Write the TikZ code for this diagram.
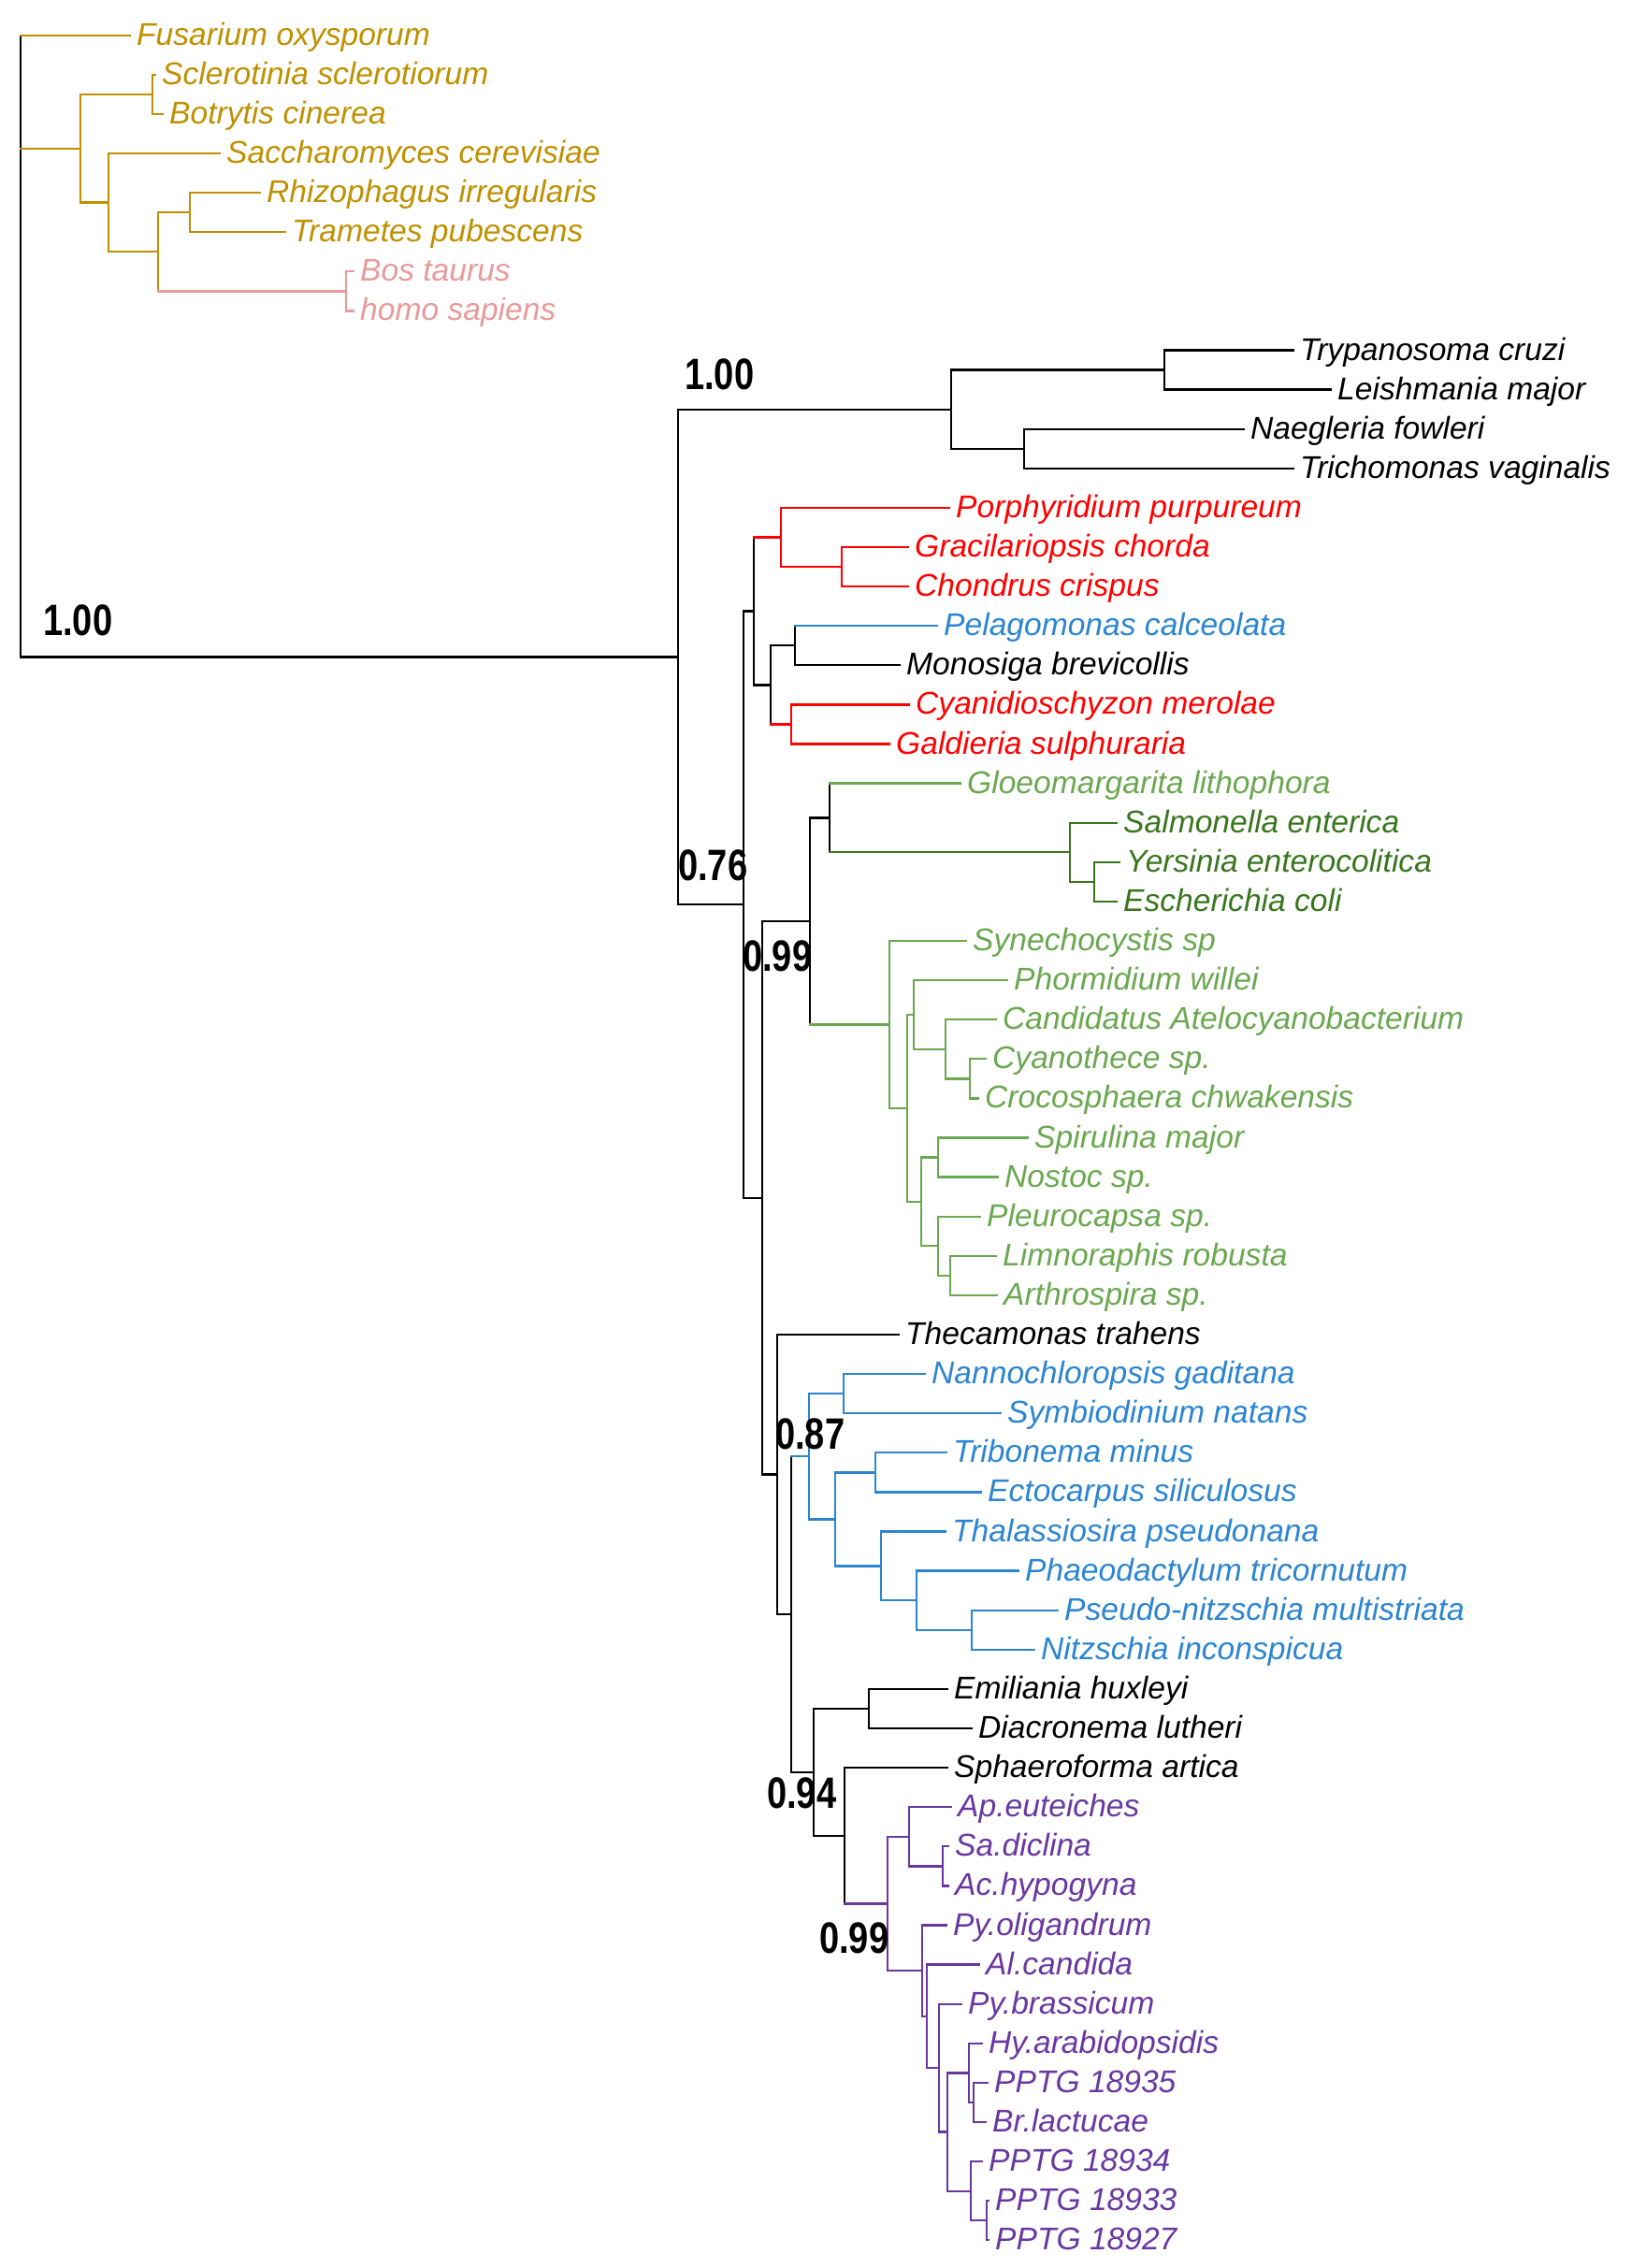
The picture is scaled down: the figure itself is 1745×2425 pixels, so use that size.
\documentclass[tikz,border=0pt]{standalone}
\usepackage{fontspec}
\setmainfont{Liberation Sans}
\definecolor{cgold}{RGB}{191,144,0}
\definecolor{cpink}{RGB}{234,153,153}
\definecolor{cred}{RGB}{255,0,0}
\definecolor{cblue}{RGB}{43,133,208}
\definecolor{cdgreen}{RGB}{56,118,29}
\definecolor{clgreen}{RGB}{106,168,79}
\definecolor{cpurple}{RGB}{105,55,160}
\newcommand\mkleaf[5]{\coordinate (#1) at (#2,#3); \node[leaf,text=#4] (#1t) at (#1) {#5};}
\newcommand\hb[3]{\draw[br,#3] (#2 -| #1) -- (#2);}
\newcommand\vb[4]{\draw[br,#4] (#2 -| #1) -- (#3 -| #1);}
\begin{document}
\begin{tikzpicture}[x=1pt,y=-42.1pt,
  br/.style={line width=2.3pt,line cap=rect},
  leaf/.style={anchor=base west,inner sep=0pt,xshift=7pt,yshift=-10.5pt,font=\fontsize{33.6}{40}\selectfont\itshape},
  bs/.style={anchor=south west,inner sep=0pt,font=\fontsize{47}{56}\selectfont\bfseries}]
\useasboundingbox (0pt,37.7pt) rectangle (1745pt,-2387.3pt);
% leaves
\mkleaf{l0}{139}{0}{cgold}{Fusarium oxysporum}
\mkleaf{l1}{166}{1}{cgold}{Sclerotinia sclerotiorum}
\mkleaf{l2}{174}{2}{cgold}{Botrytis cinerea}
\mkleaf{l3}{235}{3}{cgold}{Saccharomyces cerevisiae}
\mkleaf{l4}{278}{4}{cgold}{Rhizophagus irregularis}
\mkleaf{l5}{305}{5}{cgold}{Trametes pubescens}
\mkleaf{l6}{378}{6}{cpink}{Bos taurus}
\mkleaf{l7}{378}{7}{cpink}{homo sapiens}
\mkleaf{l8}{1383}{8}{black}{Trypanosoma cruzi}
\mkleaf{l9}{1423}{9}{black}{Leishmania major}
\mkleaf{l10}{1330}{10}{black}{Naegleria fowleri}
\mkleaf{l11}{1383}{11}{black}{Trichomonas vaginalis}
\mkleaf{l12}{1015}{12}{cred}{Porphyridium purpureum}
\mkleaf{l13}{971}{13}{cred}{Gracilariopsis chorda}
\mkleaf{l14}{971}{14}{cred}{Chondrus crispus}
\mkleaf{l15}{1002}{15}{cblue}{Pelagomonas calceolata}
\mkleaf{l16}{962}{16}{black}{Monosiga brevicollis}
\mkleaf{l17}{972}{17}{cred}{Cyanidioschyzon merolae}
\mkleaf{l18}{951}{18}{cred}{Galdieria sulphuraria}
\mkleaf{l19}{1027}{19}{clgreen}{Gloeomargarita lithophora}
\mkleaf{l20}{1194}{20}{cdgreen}{Salmonella enterica}
\mkleaf{l21}{1197}{21}{cdgreen}{Yersinia enterocolitica}
\mkleaf{l22}{1194}{22}{cdgreen}{Escherichia coli}
\mkleaf{l23}{1033}{23}{clgreen}{Synechocystis sp}
\mkleaf{l24}{1077}{24}{clgreen}{Phormidium willei}
\mkleaf{l25}{1065}{25}{clgreen}{Candidatus Atelocyanobacterium}
\mkleaf{l26}{1054}{26}{clgreen}{Cyanothece sp.}
\mkleaf{l27}{1046}{27}{clgreen}{Crocosphaera chwakensis}
\mkleaf{l28}{1099}{28}{clgreen}{Spirulina major}
\mkleaf{l29}{1067}{29}{clgreen}{Nostoc sp.}
\mkleaf{l30}{1048}{30}{clgreen}{Pleurocapsa sp.}
\mkleaf{l31}{1065}{31}{clgreen}{Limnoraphis robusta}
\mkleaf{l32}{1066}{32}{clgreen}{Arthrospira sp.}
\mkleaf{l33}{961}{33}{black}{Thecamonas trahens}
\mkleaf{l34}{989}{34}{cblue}{Nannochloropsis gaditana}
\mkleaf{l35}{1070}{35}{cblue}{Symbiodinium natans}
\mkleaf{l36}{1012}{36}{cblue}{Tribonema minus}
\mkleaf{l37}{1049}{37}{cblue}{Ectocarpus siliculosus}
\mkleaf{l38}{1011}{38}{cblue}{Thalassiosira pseudonana}
\mkleaf{l39}{1089}{39}{cblue}{Phaeodactylum tricornutum}
\mkleaf{l40}{1131}{40}{cblue}{Pseudo-nitzschia multistriata}
\mkleaf{l41}{1106}{41}{cblue}{Nitzschia inconspicua}
\mkleaf{l42}{1013}{42}{black}{Emiliania huxleyi}
\mkleaf{l43}{1039}{43}{black}{Diacronema lutheri}
\mkleaf{l44}{1013}{44}{black}{Sphaeroforma artica}
\mkleaf{l45}{1017}{45}{cpurple}{Ap.euteiches}
\mkleaf{l46}{1014}{46}{cpurple}{Sa.diclina}
\mkleaf{l47}{1014}{47}{cpurple}{Ac.hypogyna}
\mkleaf{l48}{1012}{48}{cpurple}{Py.oligandrum}
\mkleaf{l49}{1047}{49}{cpurple}{Al.candida}
\mkleaf{l50}{1028}{50}{cpurple}{Py.brassicum}
\mkleaf{l51}{1050}{51}{cpurple}{Hy.arabidopsidis}
\mkleaf{l52}{1056}{52}{cpurple}{PPTG 18935}
\mkleaf{l53}{1054}{53}{cpurple}{Br.lactucae}
\mkleaf{l54}{1050}{54}{cpurple}{PPTG 18934}
\mkleaf{l55}{1057}{55}{cpurple}{PPTG 18933}
\mkleaf{l56}{1057}{56}{cpurple}{PPTG 18927}
% internal nodes
\coordinate (root) at (22,0);
\coordinate (nFun) at (86,2.875);
\coordinate (nSB) at (163,1.5);
\coordinate (nSacc) at (116,4.25);
\coordinate (nRTBH) at (169,5.5);
\coordinate (nRT) at (203,4.5);
\coordinate (nBH) at (370,6.5);
\coordinate (nA) at (725,15.79);
\coordinate (nTL) at (1017,9.5);
\coordinate (nTryp) at (1245,8.5);
\coordinate (nNaeg) at (1095,10.5);
\coordinate (n076) at (795,22.075);
\coordinate (nRed) at (806,14.625);
\coordinate (nPorph) at (835,12.75);
\coordinate (nGC) at (900,13.5);
\coordinate (nPMCG) at (824,16.5);
\coordinate (nPM) at (850,15.5);
\coordinate (nCG) at (846,17.5);
\coordinate (n099a) at (815,29.526);
\coordinate (nCyan) at (866,22.5);
\coordinate (nGloeo) at (887,19.875);
\coordinate (nEnt) at (1144,20.75);
\coordinate (nYE) at (1170,21.5);
\coordinate (nCyanoB) at (951,25.125);
\coordinate (nX) at (970,27.25);
\coordinate (nPh) at (977,24.875);
\coordinate (nCa) at (1011,25.75);
\coordinate (nCC) at (1037,26.5);
\coordinate (nSp) at (985,29.625);
\coordinate (nSN) at (1003,28.5);
\coordinate (nPL) at (1003,30.75);
\coordinate (nLA) at (1016,31.5);
\coordinate (nLower) at (831,36.552);
\coordinate (nB) at (846,40.104);
\coordinate (nStram) at (865,36.094);
\coordinate (nNS) at (902,34.5);
\coordinate (nTr) at (893,37.6875);
\coordinate (nTE) at (936,36.5);
\coordinate (nThal) at (942,38.875);
\coordinate (nPhae) at (980,39.75);
\coordinate (nPN) at (1039,40.5);
\coordinate (nE) at (870,44.113);
\coordinate (nED) at (929,42.5);
\coordinate (nSph) at (903,45.727);
\coordinate (nOom) at (949,47.453);
\coordinate (nApSA) at (972,45.75);
\coordinate (nSaAc) at (1008,46.5);
\coordinate (nPy) at (986,49.156);
\coordinate (nAl) at (991,50.3125);
\coordinate (nPB) at (1004,51.625);
\coordinate (nHP) at (1013,53.25);
\coordinate (nHy) at (1036,51.75);
\coordinate (nPB2) at (1041,52.5);
\coordinate (nPP) at (1038,54.75);
\coordinate (n33) at (1055,55.5);
% root
\vb{root}{l0}{nA}{black}
\hb{root}{l0}{cgold}
\hb{root}{nFun}{cgold}
\hb{root}{nA}{black}
% fungi
\vb{nFun}{nSB}{nSacc}{cgold}
\hb{nFun}{nSB}{cgold}
\hb{nFun}{nSacc}{cgold}
\vb{nSB}{l1}{l2}{cgold}
\hb{nSB}{l1}{cgold}
\hb{nSB}{l2}{cgold}
\vb{nSacc}{l3}{nRTBH}{cgold}
\hb{nSacc}{l3}{cgold}
\hb{nSacc}{nRTBH}{cgold}
\vb{nRTBH}{nRT}{nBH}{cgold}
\hb{nRTBH}{nRT}{cgold}
\hb{nRTBH}{nBH}{cpink}
\vb{nRT}{l4}{l5}{cgold}
\hb{nRT}{l4}{cgold}
\hb{nRT}{l5}{cgold}
\vb{nBH}{l6}{l7}{cpink}
\hb{nBH}{l6}{cpink}
\hb{nBH}{l7}{cpink}
% big clade
\vb{nA}{nTL}{n076}{black}
\hb{nA}{nTL}{black}
\hb{nA}{n076}{black}
\vb{nTL}{nTryp}{nNaeg}{black}
\hb{nTL}{nTryp}{black}
\hb{nTL}{nNaeg}{black}
\vb{nTryp}{l8}{l9}{black}
\hb{nTryp}{l8}{black}
\hb{nTryp}{l9}{black}
\vb{nNaeg}{l10}{l11}{black}
\hb{nNaeg}{l10}{black}
\hb{nNaeg}{l11}{black}
\vb{n076}{nRed}{n099a}{black}
\hb{n076}{nRed}{black}
\hb{n076}{n099a}{black}
% red / blue
\vb{nRed}{nPorph}{nPMCG}{black}
\hb{nRed}{nPorph}{cred}
\hb{nRed}{nPMCG}{black}
\vb{nPorph}{l12}{nGC}{cred}
\hb{nPorph}{l12}{cred}
\hb{nPorph}{nGC}{cred}
\vb{nGC}{l13}{l14}{cred}
\hb{nGC}{l13}{cred}
\hb{nGC}{l14}{cred}
\vb{nPMCG}{nPM}{nCG}{black}
\hb{nPMCG}{nPM}{black}
\hb{nPMCG}{nCG}{cred}
\vb{nPM}{l15}{l16}{black}
\hb{nPM}{l15}{cblue}
\hb{nPM}{l16}{black}
\vb{nCG}{l17}{l18}{cred}
\hb{nCG}{l17}{cred}
\hb{nCG}{l18}{cred}
% 0.99 clade
\vb{n099a}{nCyan}{nLower}{black}
\hb{n099a}{nCyan}{black}
\hb{n099a}{nLower}{black}
\vb{nCyan}{nGloeo}{nCyanoB}{black}
\hb{nCyan}{nGloeo}{black}
\hb{nCyan}{nCyanoB}{clgreen}
\vb{nGloeo}{l19}{nEnt}{black}
\hb{nGloeo}{l19}{clgreen}
\hb{nGloeo}{nEnt}{cdgreen}
\vb{nEnt}{l20}{nYE}{cdgreen}
\hb{nEnt}{l20}{cdgreen}
\hb{nEnt}{nYE}{cdgreen}
\vb{nYE}{l21}{l22}{cdgreen}
\hb{nYE}{l21}{cdgreen}
\hb{nYE}{l22}{cdgreen}
% cyanobacteria
\vb{nCyanoB}{l23}{nX}{clgreen}
\hb{nCyanoB}{l23}{clgreen}
\hb{nCyanoB}{nX}{clgreen}
\vb{nX}{nPh}{nSp}{clgreen}
\hb{nX}{nPh}{clgreen}
\hb{nX}{nSp}{clgreen}
\vb{nPh}{l24}{nCa}{clgreen}
\hb{nPh}{l24}{clgreen}
\hb{nPh}{nCa}{clgreen}
\vb{nCa}{l25}{nCC}{clgreen}
\hb{nCa}{l25}{clgreen}
\hb{nCa}{nCC}{clgreen}
\vb{nCC}{l26}{l27}{clgreen}
\hb{nCC}{l26}{clgreen}
\hb{nCC}{l27}{clgreen}
\vb{nSp}{nSN}{nPL}{clgreen}
\hb{nSp}{nSN}{clgreen}
\hb{nSp}{nPL}{clgreen}
\vb{nSN}{l28}{l29}{clgreen}
\hb{nSN}{l28}{clgreen}
\hb{nSN}{l29}{clgreen}
\vb{nPL}{l30}{nLA}{clgreen}
\hb{nPL}{l30}{clgreen}
\hb{nPL}{nLA}{clgreen}
\vb{nLA}{l31}{l32}{clgreen}
\hb{nLA}{l31}{clgreen}
\hb{nLA}{l32}{clgreen}
% lower clade
\vb{nLower}{l33}{nB}{black}
\hb{nLower}{l33}{black}
\hb{nLower}{nB}{black}
\vb{nB}{nStram}{nE}{black}
\hb{nB}{nStram}{cblue}
\hb{nB}{nE}{black}
\vb{nStram}{nNS}{nTr}{cblue}
\hb{nStram}{nNS}{cblue}
\hb{nStram}{nTr}{cblue}
\vb{nNS}{l34}{l35}{cblue}
\hb{nNS}{l34}{cblue}
\hb{nNS}{l35}{cblue}
\vb{nTr}{nTE}{nThal}{cblue}
\hb{nTr}{nTE}{cblue}
\hb{nTr}{nThal}{cblue}
\vb{nTE}{l36}{l37}{cblue}
\hb{nTE}{l36}{cblue}
\hb{nTE}{l37}{cblue}
\vb{nThal}{l38}{nPhae}{cblue}
\hb{nThal}{l38}{cblue}
\hb{nThal}{nPhae}{cblue}
\vb{nPhae}{l39}{nPN}{cblue}
\hb{nPhae}{l39}{cblue}
\hb{nPhae}{nPN}{cblue}
\vb{nPN}{l40}{l41}{cblue}
\hb{nPN}{l40}{cblue}
\hb{nPN}{l41}{cblue}
\vb{nE}{nED}{nSph}{black}
\hb{nE}{nED}{black}
\hb{nE}{nSph}{black}
\vb{nED}{l42}{l43}{black}
\hb{nED}{l42}{black}
\hb{nED}{l43}{black}
\vb{nSph}{l44}{nOom}{black}
\hb{nSph}{l44}{black}
\hb{nSph}{nOom}{cpurple}
% oomycetes
\vb{nOom}{nApSA}{nPy}{cpurple}
\hb{nOom}{nApSA}{cpurple}
\hb{nOom}{nPy}{cpurple}
\vb{nApSA}{l45}{nSaAc}{cpurple}
\hb{nApSA}{l45}{cpurple}
\hb{nApSA}{nSaAc}{cpurple}
\vb{nSaAc}{l46}{l47}{cpurple}
\hb{nSaAc}{l46}{cpurple}
\hb{nSaAc}{l47}{cpurple}
\vb{nPy}{l48}{nAl}{cpurple}
\hb{nPy}{l48}{cpurple}
\hb{nPy}{nAl}{cpurple}
\vb{nAl}{l49}{nPB}{cpurple}
\hb{nAl}{l49}{cpurple}
\hb{nAl}{nPB}{cpurple}
\vb{nPB}{l50}{nHP}{cpurple}
\hb{nPB}{l50}{cpurple}
\hb{nPB}{nHP}{cpurple}
\vb{nHP}{nHy}{nPP}{cpurple}
\hb{nHP}{nHy}{cpurple}
\hb{nHP}{nPP}{cpurple}
\vb{nHy}{l51}{nPB2}{cpurple}
\hb{nHy}{l51}{cpurple}
\hb{nHy}{nPB2}{cpurple}
\vb{nPB2}{l52}{l53}{cpurple}
\hb{nPB2}{l52}{cpurple}
\hb{nPB2}{l53}{cpurple}
\vb{nPP}{l54}{n33}{cpurple}
\hb{nPP}{l54}{cpurple}
\hb{nPP}{n33}{cpurple}
\vb{n33}{l55}{l56}{cpurple}
\hb{n33}{l55}{cpurple}
\hb{n33}{l56}{cpurple}
% support values
\node[bs] (bsRoot) at (46pt,-642.3pt) {\scalebox{0.81}[1]{1.00}};
\node[bs] (bsTop) at (732pt,-379.3pt) {\scalebox{0.81}[1]{1.00}};
\node[bs] (bs76) at (725pt,-904.3pt) {\scalebox{0.81}[1]{0.76}};
\node[bs] (bs99a) at (794pt,-1001.3pt) {\scalebox{0.81}[1]{0.99}};
\node[bs] (bs87) at (829pt,-1512.3pt) {\scalebox{0.81}[1]{0.87}};
\node[bs] (bs94) at (820pt,-1896.3pt) {\scalebox{0.81}[1]{0.94}};
\node[bs] (bs99b) at (876pt,-2051.3pt) {\scalebox{0.81}[1]{0.99}};
\end{tikzpicture}
\end{document}
